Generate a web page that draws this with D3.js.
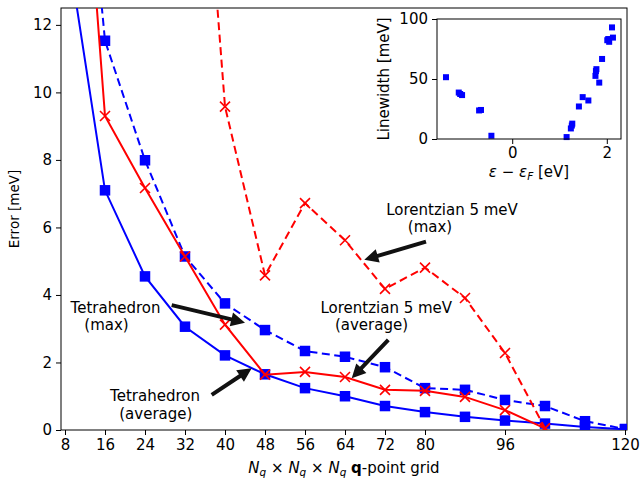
<!DOCTYPE html>
<html>
<head>
<meta charset="utf-8">
<script src="https://cdn.jsdelivr.net/npm/d3@7"></script>
<style>
  body { margin: 0; background: #fff; }
  text { font-family: "DejaVu Sans", sans-serif; fill: #000; }
</style>
</head>
<body>
<svg id="canvas" width="640" height="481"></svg>
<script>
// q-point grids (N_q)
const grids = [8, 16, 24, 32, 40, 48, 56, 64, 72, 80, 88, 96, 104, 112, 120];
const xTicks = [8, 16, 24, 32, 40, 48, 56, 64, 72, 80, 96, 120];
const yTicks = [0, 2, 4, 6, 8, 10, 12];

// errors in meV
const tetraAvg = [14.8, 7.1, 4.55, 3.06, 2.21, 1.65, 1.24, 1.0, 0.71, 0.53, 0.39, 0.28, 0.19, 0.09, 0.02];
const tetraMax = [24, 11.53, 7.99, 5.14, 3.75, 2.96, 2.34, 2.17, 1.86, 1.24, 1.19, 0.89, 0.71, 0.26, 0.03];
const lorGrids = [8, 16, 24, 32, 40, 48, 56, 64, 72, 80, 88, 96, 104];
const lorAvg = [25, 9.3, 7.17, 5.14, 3.12, 1.64, 1.72, 1.57, 1.19, 1.16, 0.98, 0.59, 0.05];
const lorMaxGrids = [32, 40, 48, 56, 64, 72, 80, 88, 96, 104];
const lorMax = [25, 9.58, 4.58, 6.72, 5.62, 4.18, 4.81, 3.91, 2.28, 0.05];

// inset: linewidth vs energy
const insetE = [-1.40, -1.13, -1.10, -1.06, -0.70, -0.66, -0.44, 1.15, 1.24, 1.26, 1.27, 1.41, 1.49, 1.61, 1.76, 1.77, 1.78, 1.84, 1.90, 2.01, 2.03, 2.05, 2.11, 2.13];
const insetW = [51.5, 38.7, 37.5, 36.6, 23.8, 24.2, 2.7, 1.6, 8.8, 11.2, 12.8, 27.1, 34.9, 32.1, 52.6, 56.6, 58.2, 47, 66.7, 82.3, 83.3, 81, 93, 84.5];
const insetXTicks = [0, 2];
const insetYTicks = [0, 50, 100];

const svg = d3.select("svg#canvas");
const FS = 15;

const mL = 61, mR = 627, mT = 8, mB = 430;
const x = d3.scaleLinear().domain([7.2, 120.4]).range([mL, mR]);
const y = d3.scaleLinear().domain([0, 12.5]).range([mB, mT]);

svg.append("defs").append("clipPath").attr("id", "clip")
    .append("rect")
    .attr("x", mL).attr("y", mT)
    .attr("width", mR - mL).attr("height", mB - mT);

// axes
const xAxis = svg.append("g")
    .attr("transform", `translate(0,${mB})`)
    .call(d3.axisBottom(x).tickValues(xTicks).tickSize(5).tickPadding(4).tickFormat(d3.format("d")));
const yAxis = svg.append("g")
    .attr("transform", `translate(${mL},0)`)
    .call(d3.axisLeft(y).tickValues(yTicks).tickSize(5).tickPadding(4));
[xAxis, yAxis].forEach(a => {
    a.select(".domain").remove();
    a.selectAll("text").attr("font-size", FS).attr("font-family", "DejaVu Sans");
    a.selectAll("line").attr("stroke", "#000").attr("stroke-width", 1);
});

svg.append("rect")
    .attr("x", mL).attr("y", mT)
    .attr("width", mR - mL).attr("height", mB - mT)
    .attr("fill", "none").attr("stroke", "#000").attr("stroke-width", 1);

// axis labels
svg.append("text")
    .attr("transform", "translate(19,209) rotate(-90)")
    .attr("text-anchor", "middle")
    .attr("font-size", 13.5)
    .text("Error [meV]");

const xl = svg.append("text")
    .attr("x", (mL + mR) / 2).attr("y", 473)
    .attr("text-anchor", "middle")
    .attr("font-size", FS);
const nq = (t) => {
    t.append("tspan").attr("font-style", "italic").text("N");
    t.append("tspan").attr("font-style", "italic").attr("font-size", FS * 0.7).attr("dy", 3).text("q");
};
nq(xl);
xl.append("tspan").attr("dy", -3).text(" × ");
nq(xl);
xl.append("tspan").attr("dy", -3).text(" × ");
nq(xl);
xl.append("tspan").attr("dy", -3).text(" ");
xl.append("tspan").attr("font-weight", "bold").text("q");
xl.append("tspan").text("-point grid");

// series
const series = [
    { xs: grids, ys: tetraAvg, color: "#0000ff", dash: null, mark: "square" },
    { xs: grids, ys: tetraMax, color: "#0000ff", dash: "8,4.5", mark: "square" },
    { xs: lorGrids, ys: lorAvg, color: "#ff0000", dash: null, mark: "x" },
    { xs: lorMaxGrids, ys: lorMax, color: "#ff0000", dash: "8,4.5", mark: "x" }
];

const plot = svg.append("g").attr("clip-path", "url(#clip)");
const line = d3.line().x(d => x(d[0])).y(d => y(d[1]));

series.forEach(s => {
    const pts = s.xs.map((v, i) => [v, s.ys[i]]);
    const g = plot.append("g");
    g.append("path")
        .datum(pts)
        .attr("d", line)
        .attr("fill", "none")
        .attr("stroke", s.color)
        .attr("stroke-width", 2)
        .attr("stroke-dasharray", s.dash);
    if (s.mark === "square") {
        g.selectAll("rect").data(pts).join("rect")
            .attr("x", d => x(d[0]) - 5.25).attr("y", d => y(d[1]) - 5.25)
            .attr("width", 10.5).attr("height", 10.5)
            .attr("fill", s.color);
    } else {
        g.selectAll("path.mk").data(pts).join("path")
            .attr("class", "mk")
            .attr("transform", d => `translate(${x(d[0])},${y(d[1])})`)
            .attr("d", "M-5,-5L5,5M-5,5L5,-5")
            .attr("stroke", s.color).attr("stroke-width", 1.6).attr("fill", "none");
    }
});

// annotations (data coords)
const notes = [
    { lines: [["Tetrahedron", 18.1, 3.47], ["(max)", 16.3, 2.95]], tail: [29.34, 3.70], tip: [44.0, 3.18] },
    { lines: [["Tetrahedron", 26.0, 0.86], ["(average)", 26.16, 0.34]], tail: [37.34, 1.04], tip: [45.34, 1.83] },
    { lines: [["Lorentzian 5 meV", 72.26, 3.47], ["(average)", 69.3, 2.95]], tail: [72.66, 2.67], tip: [65.34, 1.53] },
    { lines: [["Lorentzian 5 meV", 85.4, 6.38], ["(max)", 81.0, 5.87]], tail: [80.2, 5.58], tip: [67.86, 5.04] }
];

const arrow = (x0, y0, x1, y1) => {
    const dx = x1 - x0, dy = y1 - y0;
    const L = Math.hypot(dx, dy);
    const ux = dx / L, uy = dy / L, nx = -uy, ny = ux;
    const hl = 14, hw = 7, sw = 2;
    const bx = x1 - ux * hl, by = y1 - uy * hl;
    const p = [
        [x0 + nx * sw, y0 + ny * sw],
        [bx + nx * sw, by + ny * sw],
        [bx + nx * hw, by + ny * hw],
        [x1, y1],
        [bx - nx * hw, by - ny * hw],
        [bx - nx * sw, by - ny * sw],
        [x0 - nx * sw, y0 - ny * sw]
    ];
    return "M" + p.map(q => q.join(",")).join("L") + "Z";
};

notes.forEach(n => {
    n.lines.forEach(([t, lx, ly]) => {
        svg.append("text")
            .attr("x", x(lx)).attr("y", y(ly))
            .attr("text-anchor", "middle")
            .attr("font-size", FS)
            .attr("fill", "#111")
            .text(t);
    });
    svg.append("path")
        .attr("d", arrow(x(n.tail[0]), y(n.tail[1]), x(n.tip[0]), y(n.tip[1])))
        .attr("fill", "#111");
});

// inset
const iL = 437, iR = 621, iT = 19, iB = 139;
const ix = d3.scaleLinear().domain([-1.59, 2.3]).range([iL, iR]);
const iy = d3.scaleLinear().domain([0, 100]).range([iB, iT]);

svg.append("rect").attr("x", iL).attr("y", iT)
    .attr("width", iR - iL).attr("height", iB - iT).attr("fill", "#fff");

const ixAxis = svg.append("g")
    .attr("transform", `translate(0,${iB})`)
    .call(d3.axisBottom(ix).tickValues(insetXTicks).tickSize(5).tickPadding(3).tickFormat(d3.format("d")));
const iyAxis = svg.append("g")
    .attr("transform", `translate(${iL},0)`)
    .call(d3.axisLeft(iy).tickValues(insetYTicks).tickSize(5).tickPadding(4));
[ixAxis, iyAxis].forEach(a => {
    a.select(".domain").remove();
    a.selectAll("text").attr("font-size", FS).attr("font-family", "DejaVu Sans");
    a.selectAll("line").attr("stroke", "#000").attr("stroke-width", 1);
});

svg.append("g").selectAll("rect")
    .data(insetE.map((e, i) => [e, insetW[i]]))
    .join("rect")
    .attr("x", d => ix(d[0]) - 3).attr("y", d => iy(d[1]) - 3)
    .attr("width", 6).attr("height", 6)
    .attr("fill", "#0000ff");

svg.append("rect").attr("x", iL).attr("y", iT)
    .attr("width", iR - iL).attr("height", iB - iT)
    .attr("fill", "none").attr("stroke", "#000").attr("stroke-width", 1);

svg.append("text")
    .attr("transform", `translate(389,${(iT + iB) / 2}) rotate(-90)`)
    .attr("text-anchor", "middle")
    .attr("font-size", FS)
    .text("Linewidth [meV]");

const il = svg.append("text")
    .attr("x", (iL + iR) / 2).attr("y", 177)
    .attr("text-anchor", "middle")
    .attr("font-size", FS);
il.append("tspan").attr("font-style", "italic").text("ε");
il.append("tspan").text(" − ");
il.append("tspan").attr("font-style", "italic").text("ε");
il.append("tspan").attr("font-style", "italic").attr("font-size", FS * 0.7).attr("dy", 3).text("F");
il.append("tspan").attr("dy", -3).text(" [eV]");
</script>
</body>
</html>
